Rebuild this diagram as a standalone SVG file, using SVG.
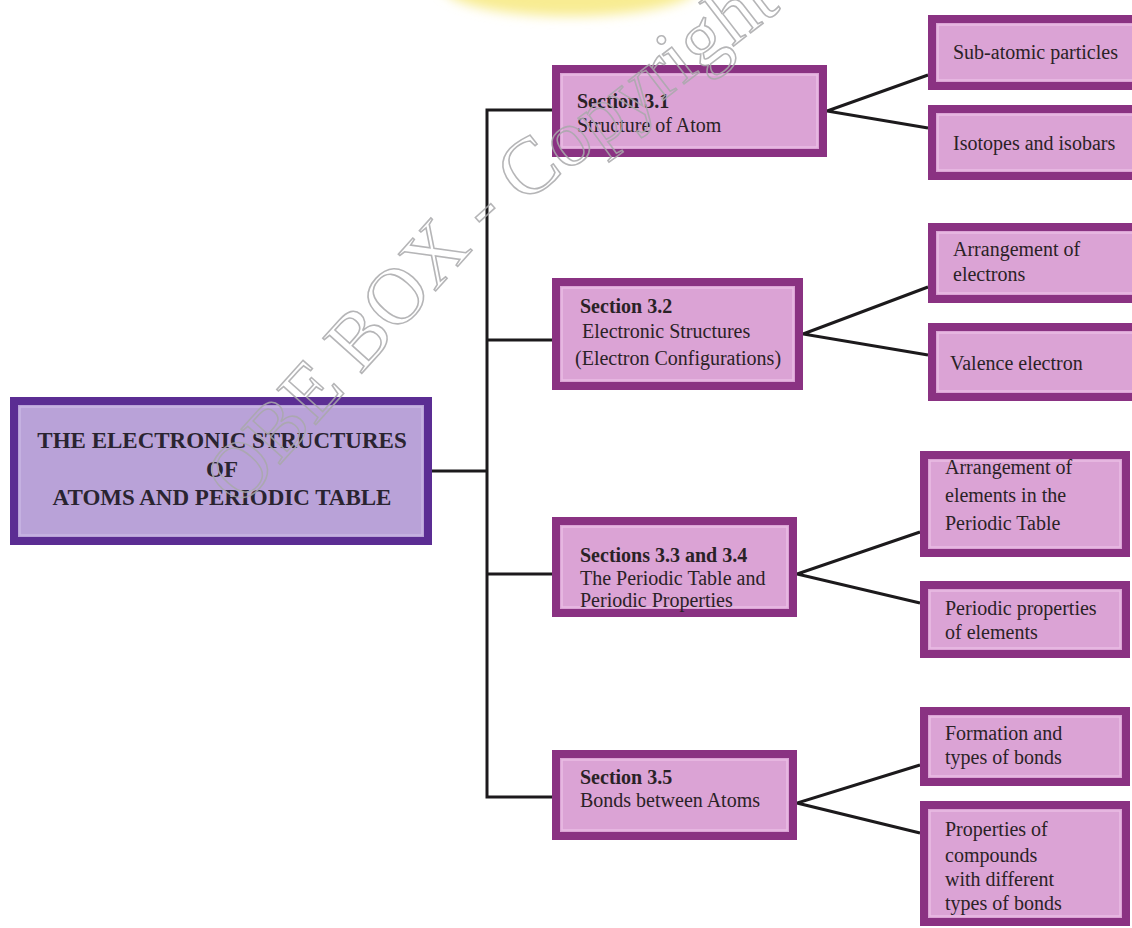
<svg xmlns="http://www.w3.org/2000/svg" width="1132" height="928" viewBox="0 0 1132 928">
  <defs>
    <filter id="soft" x="-50%" y="-50%" width="200%" height="200%">
      <feGaussianBlur stdDeviation="6"/>
    </filter>
    <!-- baseline for the diagonal watermark -->
    <path id="mark-line" d="M240,509 L460,264 C520,198 600,150 640,118 L840,-36"/>
  </defs>
  <style>
    .root-box { fill: #b9a2d8; stroke: #5b2d93; stroke-width: 8; }
    .root-inner { fill: none; stroke: #c9b6e3; stroke-width: 1.5; }
    .box { fill: #dba3d5; stroke: #8a3282; stroke-width: 8; }
    .box-inner { fill: none; stroke: #eabde4; stroke-width: 1.5; }
    .t { font-family: "Liberation Serif", "Times New Roman", serif; font-size: 20px; fill: #2a2226; }
    .b { font-weight: bold; }
    .root-t { font-family: "Liberation Serif", "Times New Roman", serif; font-size: 23px; font-weight: bold; fill: #2a2430; text-anchor: middle; }
    .link { fill: none; stroke: #1c1a1c; stroke-width: 3; stroke-linejoin: miter; }
    .mark { font-family: "Liberation Serif", "Times New Roman", serif; font-size: 80px; fill: none; stroke: #a9a9ab; stroke-width: 1.6; opacity: 0.85; }
  </style>

  <rect width="1132" height="928" fill="#ffffff"/>

  <!-- pale yellow highlight at the top edge -->
  <ellipse cx="570" cy="-14" rx="128" ry="30" fill="#f8ec92" filter="url(#soft)"/>

  <!-- connectors -->
  <g id="connectors">
    <path class="link" d="M432,471 H487"/>
    <path class="link" d="M552,110 H487 V797 H552"/>
    <path class="link" d="M487,340 H552"/>
    <path class="link" d="M487,574 H552"/>
    <path class="link" d="M928,75 L827,111 L928,128"/>
    <path class="link" d="M928,287 L803,334 L928,355"/>
    <path class="link" d="M920,532 L797,574 L920,603"/>
    <path class="link" d="M920,765 L797,803 L920,833"/>
  </g>

  <!-- root -->
  <g id="root">
    <rect class="root-box" x="14" y="401" width="414" height="140"/>
    <rect class="root-inner" x="20" y="407" width="402" height="128"/>
    <text class="root-t" x="222" y="448">THE ELECTRONIC STRUCTURES</text>
    <text class="root-t" x="222" y="477">OF</text>
    <text class="root-t" x="222" y="505">ATOMS AND PERIODIC TABLE</text>
  </g>

  <!-- sections -->
  <g id="section-3-1">
    <rect class="box" x="556" y="69" width="267" height="84"/>
    <rect class="box-inner" x="562" y="75" width="255" height="72"/>
    <text class="t b" x="577" y="108">Section 3.1</text>
    <text class="t" x="577" y="132">Structure of Atom</text>
  </g>
  <g id="section-3-2">
    <rect class="box" x="556" y="282" width="243" height="104"/>
    <rect class="box-inner" x="562" y="288" width="231" height="92"/>
    <text class="t b" x="580" y="313">Section 3.2</text>
    <text class="t" x="582" y="338">Electronic Structures</text>
    <text class="t" x="575" y="365">(Electron Configurations)</text>
  </g>
  <g id="section-3-3">
    <rect class="box" x="556" y="521" width="237" height="92"/>
    <rect class="box-inner" x="562" y="527" width="225" height="80"/>
    <text class="t b" x="580" y="562">Sections 3.3 and 3.4</text>
    <text class="t" x="580" y="585">The Periodic Table and</text>
    <text class="t" x="580" y="607">Periodic Properties</text>
  </g>
  <g id="section-3-5">
    <rect class="box" x="556" y="754" width="237" height="82"/>
    <rect class="box-inner" x="562" y="760" width="225" height="70"/>
    <text class="t b" x="580" y="784">Section 3.5</text>
    <text class="t" x="580" y="807">Bonds between Atoms</text>
  </g>

  <!-- topics -->
  <g id="sub-atomic">
    <rect class="box" x="932" y="19" width="210" height="67"/>
    <rect class="box-inner" x="938" y="25" width="204" height="55"/>
    <text class="t" x="953" y="59">Sub-atomic particles</text>
  </g>
  <g id="isotopes">
    <rect class="box" x="932" y="109" width="210" height="67"/>
    <rect class="box-inner" x="938" y="115" width="204" height="55"/>
    <text class="t" x="953" y="150">Isotopes and isobars</text>
  </g>
  <g id="arrangement-electrons">
    <rect class="box" x="932" y="227" width="210" height="72"/>
    <rect class="box-inner" x="938" y="233" width="204" height="60"/>
    <text class="t" x="953" y="256">Arrangement of</text>
    <text class="t" x="953" y="281">electrons</text>
  </g>
  <g id="valence">
    <rect class="box" x="932" y="327" width="210" height="70"/>
    <rect class="box-inner" x="938" y="333" width="204" height="58"/>
    <text class="t" x="950" y="370">Valence electron</text>
  </g>
  <g id="arrangement-elements">
    <rect class="box" x="924" y="455" width="202" height="98"/>
    <rect class="box-inner" x="930" y="461" width="190" height="86"/>
    <text class="t" x="945" y="474">Arrangement of</text>
    <text class="t" x="945" y="502">elements in the</text>
    <text class="t" x="945" y="530">Periodic Table</text>
  </g>
  <g id="periodic-properties">
    <rect class="box" x="924" y="585" width="202" height="69"/>
    <rect class="box-inner" x="930" y="591" width="190" height="57"/>
    <text class="t" x="945" y="615">Periodic properties</text>
    <text class="t" x="945" y="639">of elements</text>
  </g>
  <g id="formation-bonds">
    <rect class="box" x="924" y="711" width="202" height="71"/>
    <rect class="box-inner" x="930" y="717" width="190" height="59"/>
    <text class="t" x="945" y="740">Formation and</text>
    <text class="t" x="945" y="764">types of bonds</text>
  </g>
  <g id="compound-properties">
    <rect class="box" x="924" y="805" width="202" height="117"/>
    <rect class="box-inner" x="930" y="811" width="190" height="105"/>
    <text class="t" x="945" y="836">Properties of</text>
    <text class="t" x="945" y="862">compounds</text>
    <text class="t" x="945" y="886">with different</text>
    <text class="t" x="945" y="910">types of bonds</text>
  </g>

  <!-- outlined diagonal watermark -->
  <text class="mark"><textPath href="#mark-line">OBE BOX - Copyright</textPath></text>
</svg>
